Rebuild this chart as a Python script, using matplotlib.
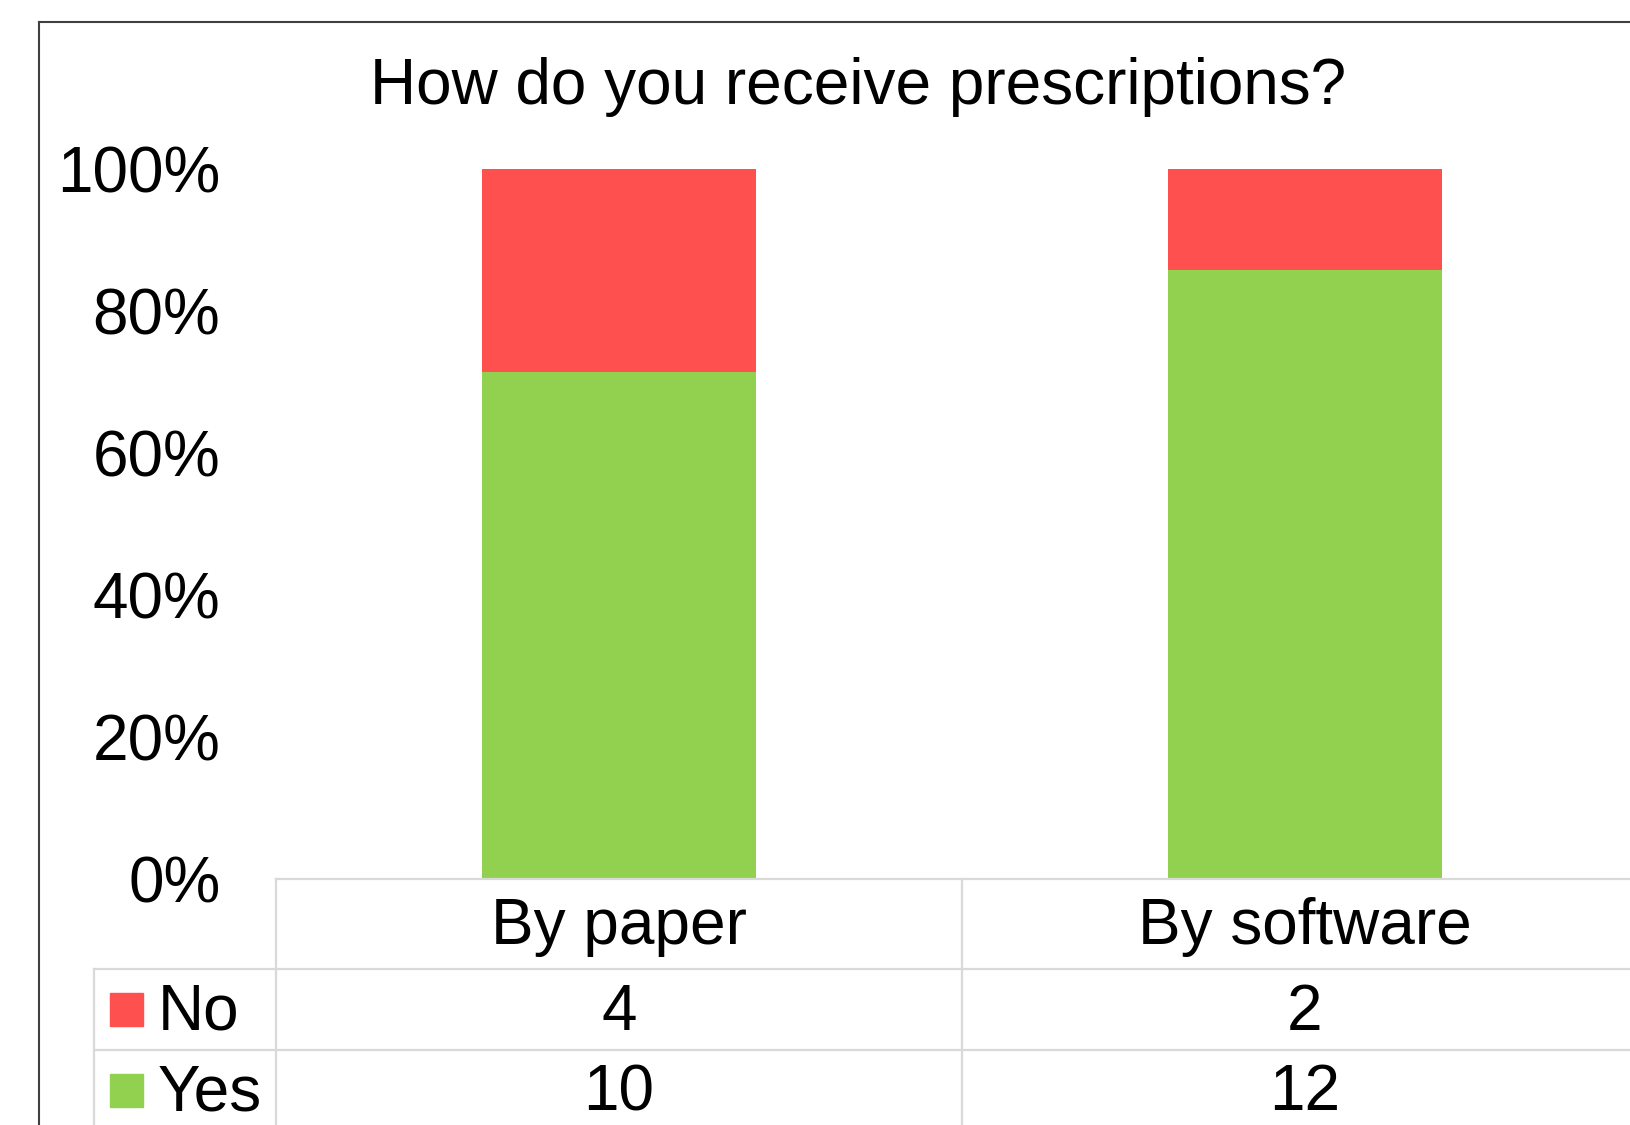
import matplotlib.pyplot as plt
from matplotlib.patches import Rectangle
from matplotlib.lines import Line2D
import numpy as np

plt.rcParams['font.family'] = ['Liberation Sans', 'DejaVu Sans']

categories = ["By paper", "By software"]
series = ["No", "Yes"]
no_counts = [4, 2]
yes_counts = [10, 12]
colors = {"No": "#FF5050", "Yes": "#92D050"}
yticks = [0, 0.2, 0.4, 0.6, 0.8, 1.0]

W, H = 1631, 1125
fig = plt.figure(figsize=(W / 100, H / 100), dpi=100)
FS = 46

# plot area in pixel terms (runs past the right edge like the original)
left, right, top, bottom = 276, 1648, 169, 879
ax = fig.add_axes([left / W, (H - bottom) / H, (right - left) / W, (bottom - top) / H])

no = np.array(no_counts, dtype=float)
yes = np.array(yes_counts, dtype=float)
tot = no + yes
x = np.arange(len(categories))
ax.bar(x, yes / tot, width=0.4, color=colors["Yes"])
ax.bar(x, no / tot, width=0.4, bottom=yes / tot, color=colors["No"])

ax.set_xlim(-0.5, len(categories) - 0.5)
ax.set_ylim(0, 1)
ax.set_yticks(yticks)
ax.set_yticklabels([f"{int(round(t * 100))}%" for t in yticks], fontsize=FS)
ax.tick_params(axis='y', length=0, pad=40)
ax.set_xticks([])
for s in ax.spines.values():
    s.set_visible(False)

# data table under the plot
grid = '#D9D9D9'
px_y = lambda p: -(p - bottom) / (bottom - top)   # pixel row -> axes y
px_x = lambda p: (p - left) / (right - left)      # pixel col -> axes x
r0, r1, r2, r3 = bottom, 969, 1050, 1131
lab_left = 94
dy = 3  # text sits a little below row middle
kw = dict(transform=ax.transAxes, clip_on=False, color=grid, lw=1.6)
ax.plot([0, 1], [px_y(r0)] * 2, **kw)
for r in (r1, r2, r3):
    ax.plot([px_x(lab_left), 1], [px_y(r)] * 2, **kw)
ax.plot([px_x(lab_left)] * 2, [px_y(r1), px_y(r3)], **kw)
for i in range(len(categories) + 1):
    ax.plot([i / len(categories)] * 2, [px_y(r0), px_y(r3)], **kw)

for i, c in enumerate(categories):
    xc = (i + 0.5) / len(categories)
    ax.text(xc, px_y((r0 + r1) / 2 + dy), c, transform=ax.transAxes, ha='center', va='center', fontsize=FS)
    ax.text(xc, px_y((r1 + r2) / 2 + dy), str(no_counts[i]), transform=ax.transAxes, ha='center', va='center', fontsize=FS)
    ax.text(xc, px_y((r2 + r3) / 2 + dy), str(yes_counts[i]), transform=ax.transAxes, ha='center', va='center', fontsize=FS)

for name, (ra, rb) in zip(series, [(r1, r2), (r2, r3)]):
    cy = (ra + rb) / 2
    ax.add_patch(Rectangle((px_x(110), px_y(cy + 16.5)), px_x(143) - px_x(110), 33 / (bottom - top),
                           transform=ax.transAxes, clip_on=False, color=colors[name]))
    ax.text(px_x(158), px_y(cy + dy), name, transform=ax.transAxes, ha='left', va='center', fontsize=FS)

# title
fig.text(858 / W, (H - 104) / H, "How do you receive prescriptions?", ha='center', va='baseline', fontsize=FS)

# chart frame (only left and top edges are visible)
fx, fy = 39.5 / W, (H - 22) / H
fig.add_artist(Line2D([fx, fx], [0, fy], color='#404040', lw=1.5, transform=fig.transFigure))
fig.add_artist(Line2D([fx, 1], [fy, fy], color='#404040', lw=1.5, transform=fig.transFigure))

fig.savefig("out.png", dpi=100)
